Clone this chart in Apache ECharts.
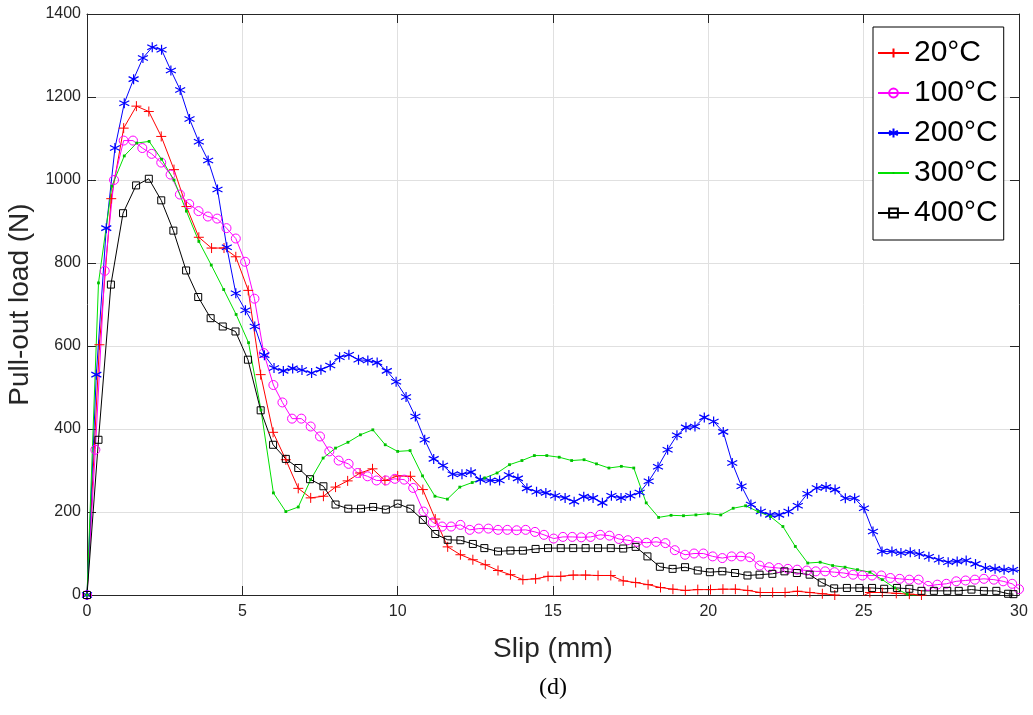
<!DOCTYPE html>
<html>
<head>
<meta charset="utf-8">
<script src="https://cdn.jsdelivr.net/npm/echarts@6/dist/echarts.min.js"></script>
<style>
  html, body { margin: 0; padding: 0; background: #fff; }
  #chart { width: 1033px; height: 715px; }
</style>
</head>
<body>
<div id="chart"></div>
<script>
// legend names
var names = ['20°C', '100°C', '200°C', '300°C', '400°C'];
var xTicks = [0, 5, 10, 15, 20, 25, 30];
var yTicks = [0, 200, 400, 600, 800, 1000, 1200, 1400];

// [slip (mm), load (N)]
var load20 = [[0,0],[0.4,603],[0.78,955],[1.18,1125],[1.59,1178],[1.99,1165],[2.39,1105],[2.8,1025],[3.2,936],[3.6,862],[4.01,836],[4.41,836],[4.79,815],[5.19,734],[5.59,531],[5.99,392],[6.4,326],[6.8,257],[7.2,234],[7.61,238],[8.0,260],[8.39,275],[8.79,294],[9.19,304],[9.59,276],[10.0,287],[10.41,286],[10.81,254],[11.21,183],[11.61,116],[12.02,97],[12.42,85],[12.82,73],[13.23,59],[13.63,49],[14.03,37],[14.44,39],[14.84,45],[15.25,45],[15.65,48],[16.05,48],[16.45,47],[16.86,47],[17.26,34],[17.66,30],[18.06,25],[18.46,18],[18.86,14],[19.26,11],[19.66,13],[20.07,13],[20.47,14],[20.87,14],[21.27,11],[21.67,6],[22.07,6],[22.47,6],[22.87,9],[23.27,6],[23.67,3],[24.07,0],[24.47,-12],[24.87,-6],[25.2,6],[25.6,6],[26.05,4],[26.47,2],[26.86,0],[27.26,-10],[27.66,-12],[28.06,-14],[28.46,-12],[28.86,-14],[29.26,-12],[29.66,-14],[30.0,-12]];

var load100 = [[0,0],[0.27,350],[0.57,781],[0.87,1000],[1.18,1095],[1.48,1095],[1.78,1077],[2.08,1063],[2.39,1042],[2.69,1013],[2.99,965],[3.29,942],[3.59,925],[3.89,912],[4.19,907],[4.49,884],[4.79,859],[5.09,803],[5.39,714],[5.69,583],[6.0,506],[6.29,464],[6.6,425],[6.9,425],[7.2,406],[7.5,382],[7.8,346],[8.1,324],[8.42,316],[8.71,294],[9.03,286],[9.32,276],[9.62,276],[9.91,280],[10.21,278],[10.5,258],[10.83,201],[11.13,175],[11.43,165],[11.72,165],[12.02,169],[12.32,157],[12.61,160],[12.92,160],[13.23,157],[13.53,157],[13.83,156],[14.12,157],[14.42,152],[14.71,145],[15.02,136],[15.32,140],[15.62,140],[15.91,139],[16.21,140],[16.52,145],[16.82,143],[17.12,135],[17.41,132],[17.71,128],[18.01,126],[18.32,128],[18.62,125],[18.92,108],[19.25,97],[19.54,100],[19.84,100],[20.14,93],[20.45,89],[20.75,93],[21.05,93],[21.34,91],[21.65,71],[21.96,67],[22.26,65],[22.56,63],[22.86,61],[23.17,59],[23.46,57],[23.76,57],[24.06,55],[24.36,53],[24.66,49],[24.96,47],[25.27,47],[25.57,47],[25.86,41],[26.16,39],[26.47,37],[26.77,37],[27.07,22],[27.37,25],[27.66,27],[27.98,33],[28.28,35],[28.58,37],[28.87,39],[29.19,37],[29.49,33],[29.78,27],[30.0,14]];

var load200 = [[0,0],[0.3,531],[0.62,884],[0.9,1077],[1.2,1185],[1.5,1243],[1.8,1294],[2.1,1320],[2.4,1314],[2.7,1264],[3.0,1217],[3.3,1147],[3.6,1092],[3.9,1047],[4.2,977],[4.5,838],[4.79,727],[5.1,686],[5.4,647],[5.71,578],[6.02,547],[6.32,540],[6.62,546],[6.92,542],[7.23,535],[7.53,543],[7.83,553],[8.13,573],[8.43,579],[8.74,567],[9.04,565],[9.34,560],[9.65,540],[9.95,514],[10.27,477],[10.57,430],[10.87,374],[11.16,328],[11.46,312],[11.77,291],[12.07,291],[12.36,296],[12.66,278],[12.98,276],[13.28,276],[13.58,289],[13.87,281],[14.16,257],[14.47,249],[14.77,246],[15.07,239],[15.39,234],[15.68,225],[15.99,237],[16.29,234],[16.59,222],[16.88,239],[17.19,234],[17.49,239],[17.79,247],[18.08,274],[18.38,309],[18.69,350],[18.99,385],[19.28,404],[19.57,406],[19.87,428],[20.17,418],[20.48,393],[20.77,318],[21.07,262],[21.37,218],[21.69,201],[21.99,193],[22.28,193],[22.58,201],[22.88,215],[23.19,244],[23.49,258],[23.79,260],[24.08,254],[24.41,233],[24.71,233],[25.01,209],[25.3,153],[25.59,105],[25.91,105],[26.2,101],[26.5,103],[26.79,99],[27.1,92],[27.42,85],[27.72,79],[28.01,81],[28.3,83],[28.6,75],[28.92,65],[29.23,63],[29.52,61],[29.81,61]];
var end200 = [30.0, 59];

var load300 = [[0,0],[0.37,752],[0.8,985],[1.2,1058],[1.6,1089],[2.0,1093],[2.4,1050],[2.8,1000],[3.2,925],[3.6,852],[4.0,795],[4.4,736],[4.8,676],[5.2,608],[5.6,446],[6.0,246],[6.4,201],[6.8,212],[7.2,278],[7.6,330],[8.0,354],[8.4,368],[8.8,386],[9.2,398],[9.6,362],[10.0,346],[10.4,348],[10.8,287],[11.2,238],[11.6,231],[12.0,260],[12.4,271],[12.8,282],[13.2,294],[13.6,314],[14.0,324],[14.4,336],[14.8,336],[15.2,332],[15.6,324],[16.0,326],[16.4,316],[16.8,306],[17.2,310],[17.6,306],[18.0,222],[18.4,187],[18.8,192],[19.2,191],[19.6,193],[20.0,196],[20.4,193],[20.8,209],[21.2,215],[21.6,201],[22.0,189],[22.4,165],[22.8,117],[23.2,77],[23.6,79],[24.0,71],[24.4,67],[24.8,61],[25.2,55],[25.6,37],[26.0,17],[26.4,2],[26.8,-4],[27.2,-6],[27.6,-6],[28.0,-6],[28.4,-6],[28.8,-6],[29.2,-6],[29.6,-6],[30.0,-6]];

var load400 = [[0,0],[0.37,374],[0.77,748],[1.16,920],[1.58,987],[1.99,1003],[2.39,951],[2.78,878],[3.19,782],[3.58,718],[3.98,667],[4.37,647],[4.78,635],[5.18,567],[5.59,445],[5.99,362],[6.4,328],[6.8,306],[7.18,279],[7.61,262],[8.0,218],[8.41,208],[8.82,208],[9.21,212],[9.62,206],[10.0,220],[10.41,208],[10.81,181],[11.21,147],[11.61,133],[12.02,132],[12.42,123],[12.79,113],[13.23,105],[13.63,107],[14.03,107],[14.44,111],[14.84,113],[15.25,113],[15.65,113],[16.05,113],[16.45,113],[16.86,113],[17.26,112],[17.66,116],[18.04,93],[18.44,68],[18.85,63],[19.25,67],[19.66,59],[20.05,55],[20.45,57],[20.86,53],[21.26,47],[21.65,49],[22.06,51],[22.45,57],[22.85,53],[23.26,49],[23.65,30],[24.05,16],[24.46,17],[24.86,17],[25.27,17],[25.66,15],[26.07,17],[26.47,15],[26.86,10],[27.26,10],[27.69,10],[28.06,10],[28.47,13],[28.87,10],[29.27,10],[29.65,3],[29.82,2]];

var plusPath = 'path://M5,0 L5,10 M0,5 L10,5';
var starPath = 'path://M5,0 L5,10 M0.67,2.5 L9.33,7.5 M0.67,7.5 L9.33,2.5';
var dotPath = 'path://M0,0 L0,0 M10,10 L10,10 M4,4 L6,4 L6,6 L4,6 Z';
var axisColor = '#262626';
var font = 'Liberation Sans, Arial, sans-serif';

var chart = echarts.init(document.getElementById('chart'));

function makeSeries(name, data, color, symbol, size, fill, border) {
    return {
        name: name,
        type: 'line',
        data: data,
        symbol: symbol,
        symbolSize: size,
        clip: true,
        lineStyle: { color: color, width: 1 },
        itemStyle: {
            color: fill,
            borderColor: color,
            borderWidth: border
        },
        emphasis: { disabled: true }
    };
}

var data200 = load200.slice();
data200.push({ value: end200, symbol: 'none' });

var axisCommon = {
    axisLine: { show: true, onZero: false, lineStyle: { color: axisColor, width: 1 } },
    axisTick: { show: true, inside: true, length: 9, lineStyle: { color: axisColor } }
};

var option = {
    animation: false,
    backgroundColor: '#fff',
    grid: { left: 87, right: 14, top: 14, bottom: 120, containLabel: false, outerBoundsMode: 'none' },
    xAxis: [
        Object.assign({
            type: 'value', min: xTicks[0], max: xTicks[xTicks.length - 1], interval: 5,
            name: 'Slip (mm)', nameLocation: 'middle', nameGap: 40,
            nameTextStyle: { fontSize: 28, color: axisColor, fontFamily: font },
            axisLabel: { fontSize: 16, color: axisColor, fontFamily: font, margin: 9 },
            splitLine: { show: true, lineStyle: { color: '#e0e0e0', width: 1 } }
        }, axisCommon),
        Object.assign({
            type: 'value', position: 'top', min: 0, max: 30, interval: 5,
            axisLabel: { show: false }, splitLine: { show: false }
        }, axisCommon)
    ],
    yAxis: [
        Object.assign({
            type: 'value', min: yTicks[0], max: yTicks[yTicks.length - 1], interval: 200,
            name: 'Pull-out load (N)', nameLocation: 'middle', nameGap: 46,
            nameTextStyle: { fontSize: 28, color: axisColor, fontFamily: font },
            axisLabel: {
                fontSize: 16, color: axisColor, fontFamily: font, margin: 6,
                formatter: function (v) { return String(v); }
            },
            splitLine: { show: true, lineStyle: { color: '#e0e0e0', width: 1 } }
        }, axisCommon),
        Object.assign({
            type: 'value', position: 'right', min: 0, max: 1400, interval: 200,
            axisLabel: { show: false }, splitLine: { show: false }
        }, axisCommon)
    ],
    legend: {
        orient: 'vertical',
        left: 873,
        top: 27,
        data: names,
        padding: [9, 6, 10, 4],
        itemGap: 6,
        itemWidth: 31,
        itemHeight: 11,
        borderColor: '#000',
        borderWidth: 1,
        backgroundColor: '#fff',
        selectedMode: false,
        textStyle: { fontSize: 30, lineHeight: 34, color: '#000', fontFamily: font }
    },
    graphic: [{
        type: 'text',
        x: 553,
        y: 688,
        style: {
            text: '(d)',
            font: '24px "Liberation Serif", "Times New Roman", serif',
            fill: '#000',
            textAlign: 'center',
            textVerticalAlign: 'middle'
        }
    }],
    series: [
        makeSeries(names[0], load20, '#ff0000', plusPath, 10, 'transparent', 1),
        makeSeries(names[1], load100, '#ff00ff', 'circle', 9, 'transparent', 1),
        makeSeries(names[2], data200, '#0000ff', starPath, 10, 'transparent', 1.2),
        makeSeries(names[3], load300, '#00e000', dotPath, 14, '#00c000', 0),
        makeSeries(names[4], load400, '#000000', 'rect', 7, 'transparent', 1)
    ]
};

chart.setOption(option);
</script>
</body>
</html>
